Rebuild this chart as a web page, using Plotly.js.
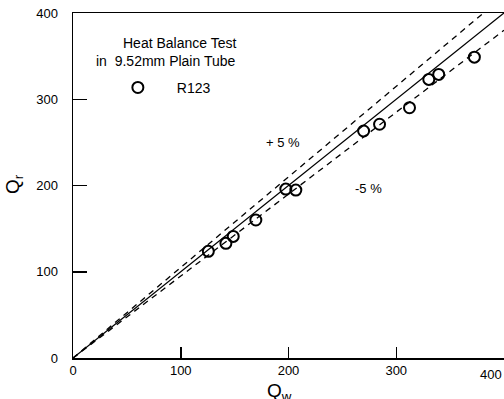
<!DOCTYPE html>
<html>
<head>
<meta charset="utf-8">
<script src="https://cdn.plot.ly/plotly-3.0.1.min.js"></script>
<style>html,body{margin:0;padding:0;background:#fff;}#chart{width:504px;height:399px;}</style>
</head>
<body>
<div id="chart"></div>
<script>
// Measured data: water-side heat (Qw) vs refrigerant-side heat (Qr)
const qw = [125.6, 141.9, 148.7, 169.7, 197.5, 206.8, 269.7, 284.5, 312.3, 330.2, 339.4, 372.5];
const qr = [123.7, 132.9, 141.0, 160.0, 195.8, 194.7, 263.2, 271.0, 290.2, 323.0, 328.8, 348.8];
const seriesName = 'R123';
const legendTitle = ['Heat Balance Test', 'in \u00a09.52mm Plain Tube'];
const refX = [0, 400];
const upperFactor = 1.05;
const lowerFactor = 0.95;
const bandLabels = ['+ 5 %', '-5 %'];
const lastXTick = '400';
const xTitle = 'Q<sub>w</sub>';
const yTitle = 'Q<sub>r</sub>';

const font = 'Liberation Sans, Arial, sans-serif';

const traces = [
  {x: refX, y: refX.map(v => v), mode: 'lines', line: {color: '#000', width: 1.3}, showlegend: false, hoverinfo: 'skip'},
  {x: refX, y: refX.map(v => v * upperFactor), mode: 'lines', line: {color: '#000', width: 1.3, dash: '6px,5px'}, showlegend: false, hoverinfo: 'skip'},
  {x: refX, y: refX.map(v => v * lowerFactor), mode: 'lines', line: {color: '#000', width: 1.3, dash: '6px,5px'}, showlegend: false, hoverinfo: 'skip'},
  {x: qw, y: qr, mode: 'markers', name: seriesName, showlegend: true,
   marker: {symbol: 'circle-open', size: 11, color: '#000', line: {width: 2, color: '#000'}}}
];

const layout = {
  width: 504, height: 399,
  margin: {l: 73, r: 0, t: 13, b: 41, pad: 0},
  paper_bgcolor: '#fff', plot_bgcolor: '#fff',
  font: {family: font, size: 13, color: '#000'},
  showlegend: true,
  legend: {x: 0.06, y: 0.783, xanchor: 'left', yanchor: 'middle', bgcolor: 'rgba(0,0,0,0)',
           itemwidth: 68, font: {family: font, size: 14, color: '#000'}},
  xaxis: {
    range: [0, 400], showgrid: false, zeroline: false,
    showline: true, linecolor: '#000', linewidth: 1.5, mirror: true,
    tickmode: 'linear', tick0: 0, dtick: 100,
    ticks: 'inside', ticklen: 11, tickwidth: 1.5, tickcolor: '#000',
    labelalias: {'400': '\u200b'},
    tickfont: {family: font, size: 13, color: '#000'}
  },
  yaxis: {
    range: [0, 400], showgrid: false, zeroline: false,
    showline: true, linecolor: '#000', linewidth: 1.5,
    tickmode: 'linear', tick0: 0, dtick: 100,
    ticks: 'inside', ticklen: 14, tickwidth: 1.5, tickcolor: '#000',
    ticksuffix: '\u00a0\u00a0\u00a0',
    tickfont: {family: font, size: 13, color: '#000'}
  },
  annotations: [
    {xref: 'paper', yref: 'paper', x: 0.383, y: 0.913, text: legendTitle[0], showarrow: false,
     font: {family: font, size: 14, color: '#000'}, xanchor: 'right', yanchor: 'middle'},
    {xref: 'paper', yref: 'paper', x: 0.383, y: 0.861, text: legendTitle[1], showarrow: false,
     font: {family: font, size: 14, color: '#000'}, xanchor: 'right', yanchor: 'middle'},
    {xref: 'x', yref: 'y', x: 195, y: 250, text: bandLabels[0], showarrow: false,
     font: {family: font, size: 13, color: '#000'}},
    {xref: 'x', yref: 'y', x: 274, y: 196, text: bandLabels[1], showarrow: false,
     font: {family: font, size: 13, color: '#000'}},
    {xref: 'x', yref: 'paper', x: 400, y: 0, yshift: -7, text: lastXTick, showarrow: false, xanchor: 'right', yanchor: 'top',
     font: {family: font, size: 13, color: '#000'}},
    {xref: 'paper', yref: 'paper', x: 0.48, y: -0.098, text: xTitle, showarrow: false, xanchor: 'center', yanchor: 'middle',
     font: {family: font, size: 19, color: '#000'}},
    {xref: 'paper', yref: 'paper', x: -0.137, y: 0.504, text: yTitle, showarrow: false, xanchor: 'center', yanchor: 'middle',
     textangle: -90, font: {family: font, size: 19, color: '#000'}}
  ]
};

Plotly.newPlot('chart', traces, layout, {displayModeBar: false, staticPlot: true});
</script>
</body>
</html>
